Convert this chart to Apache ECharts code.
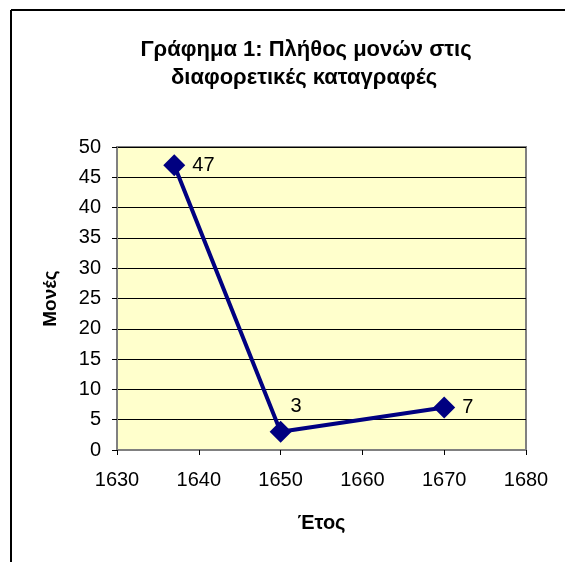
<!DOCTYPE html>
<html>
<head>
<meta charset="utf-8">
<script src="https://cdn.jsdelivr.net/npm/echarts@6/dist/echarts.min.js"></script>
<style>html,body{margin:0;padding:0;background:#fff}#c{width:565px;height:562px}</style>
</head>
<body>
<div id="c"></div>
<script>
const titleLines = ['Γράφημα 1: Πλήθος μονών στις', 'διαφορετικές καταγραφές'];
const xName = 'Έτος';
const yName = 'Μονές';
const years = [1637, 1650, 1670];
const counts = [47, 3, 7];
const xTicks = [1630, 1640, 1650, 1660, 1670, 1680];
const yTicks = [0, 5, 10, 15, 20, 25, 30, 35, 40, 45, 50];

const FONT = "Arial, 'Liberation Sans', sans-serif";
const chart = echarts.init(document.getElementById('c'));

const labelOffsets = [[0, 0], [-8, -25], [0, 0]];
const seriesData = years.map((y, i) => ({
  value: [y, counts[i]],
  label: { offset: labelOffsets[i] }
}));

chart.setOption({
  backgroundColor: '#ffffff',
  animation: false,
  graphic: [
    { type: 'line', shape: { x1: 11, y1: 10, x2: 565, y2: 10 }, style: { stroke: '#000', lineWidth: 2 } },
    { type: 'line', shape: { x1: 11, y1: 10, x2: 11, y2: 562 }, style: { stroke: '#000', lineWidth: 2 } },
    { type: 'text', style: { text: titleLines[0], x: 306, y: 50, align: 'center', verticalAlign: 'middle', font: 'bold 22px ' + FONT, fill: '#000' } },
    { type: 'text', style: { text: titleLines[1], x: 304, y: 78, align: 'center', verticalAlign: 'middle', font: 'bold 22px ' + FONT, fill: '#000' } }
  ],
  grid: {
    left: 117, right: 39, top: 147, bottom: 112,
    show: true, backgroundColor: '#FFFFCC', borderColor: '#808080', borderWidth: 2
  },
  xAxis: {
    type: 'value', min: xTicks[0], max: xTicks[xTicks.length - 1], interval: 10,
    name: xName, nameLocation: 'middle', nameGap: 63,
    nameTextStyle: { fontFamily: FONT, fontSize: 20, fontWeight: 'bold', color: '#000' },
    axisLine: { show: true, lineStyle: { color: '#808080', width: 2 } },
    axisTick: { show: true, length: 5, lineStyle: { color: '#000' } },
    axisLabel: { fontFamily: FONT, fontSize: 20, color: '#000', margin: 20, formatter: v => String(v) },
    splitLine: { show: false }
  },
  yAxis: {
    type: 'value', min: yTicks[0], max: yTicks[yTicks.length - 1], interval: 5,
    name: yName, nameLocation: 'middle', nameGap: 57,
    nameTextStyle: { fontFamily: FONT, fontSize: 19, fontWeight: 'bold', color: '#000' },
    axisLine: { show: true, lineStyle: { color: '#808080', width: 2 } },
    axisTick: { show: true, length: 5, lineStyle: { color: '#000' } },
    axisLabel: { fontFamily: FONT, fontSize: 20, color: '#000', margin: 16, formatter: v => String(v) },
    splitLine: { show: true, lineStyle: { color: '#000', width: 1 } }
  },
  series: [{
    type: 'line',
    data: seriesData,
    symbol: 'diamond',
    symbolSize: 22,
    itemStyle: { color: '#000080' },
    lineStyle: { color: '#000080', width: 4 },
    label: {
      show: true, position: 'right', distance: 7,
      fontFamily: FONT, fontSize: 20, color: '#000',
      formatter: p => String(p.value[1])
    }
  }]
});
</script>
</body>
</html>
